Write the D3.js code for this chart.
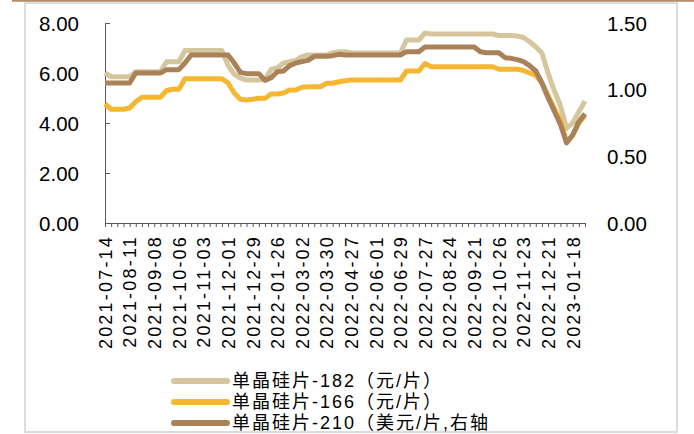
<!DOCTYPE html>
<html>
<head>
<meta charset="utf-8">
<script src="https://cdn.jsdelivr.net/npm/d3@7"></script>
<style>
  html, body { margin: 0; padding: 0; background: #fff; }
  svg { display: block; }
</style>
</head>
<body>
<svg id="chart" width="694" height="434"></svg>
<script>
// ---------------- data ----------------
const dates = [
  "2021-07-14","2021-07-21","2021-07-28","2021-08-04","2021-08-11","2021-08-18","2021-08-25","2021-09-01",
  "2021-09-08","2021-09-15","2021-09-22","2021-09-29","2021-10-06","2021-10-13","2021-10-20","2021-10-27",
  "2021-11-03","2021-11-10","2021-11-17","2021-11-24","2021-12-01","2021-12-08","2021-12-15","2021-12-22",
  "2021-12-29","2022-01-05","2022-01-12","2022-01-19","2022-01-26","2022-02-09","2022-02-16","2022-02-23",
  "2022-03-02","2022-03-09","2022-03-16","2022-03-23","2022-03-30","2022-04-06","2022-04-13","2022-04-20",
  "2022-04-27","2022-05-11","2022-05-18","2022-05-25","2022-06-01","2022-06-08","2022-06-15","2022-06-22",
  "2022-06-29","2022-07-06","2022-07-13","2022-07-20","2022-07-27","2022-08-03","2022-08-10","2022-08-17",
  "2022-08-24","2022-08-31","2022-09-07","2022-09-14","2022-09-21","2022-09-28","2022-10-12","2022-10-19",
  "2022-10-26","2022-11-02","2022-11-09","2022-11-16","2022-11-23","2022-11-30","2022-12-07","2022-12-14",
  "2022-12-21","2022-12-28","2023-01-04","2023-01-11","2023-01-18","2023-02-01","2023-02-08"
];

// 单晶硅片-182（元/片） left axis
const wafer182 = [
  6.00,5.85,5.85,5.85,5.85,6.05,6.05,6.05,6.05,6.05,
  6.45,6.45,6.45,6.90,6.90,6.90,6.90,6.90,6.90,6.90,
  6.30,5.95,5.80,5.72,5.72,5.72,5.75,6.15,6.20,6.40,
  6.45,6.50,6.65,6.72,6.72,6.72,6.72,6.80,6.85,6.85,
  6.80,6.80,6.80,6.80,6.80,6.80,6.80,6.80,6.80,7.32,
  7.32,7.32,7.60,7.56,7.56,7.56,7.56,7.56,7.56,7.56,
  7.56,7.56,7.56,7.56,7.50,7.50,7.50,7.48,7.42,7.25,
  7.05,6.80,6.00,5.30,4.70,3.78,4.00,4.45,4.88
];

// 单晶硅片-166（元/片） left axis
const wafer166 = [
  4.76,4.55,4.55,4.55,4.60,4.85,5.03,5.03,5.03,5.03,
  5.30,5.35,5.35,5.77,5.77,5.77,5.77,5.77,5.77,5.77,
  5.60,5.20,4.95,4.92,4.95,4.99,4.99,5.16,5.16,5.20,
  5.32,5.32,5.43,5.45,5.45,5.45,5.59,5.59,5.65,5.69,
  5.72,5.72,5.72,5.72,5.72,5.72,5.72,5.72,5.72,6.08,
  6.08,6.08,6.38,6.25,6.25,6.25,6.25,6.25,6.25,6.25,
  6.25,6.25,6.25,6.25,6.15,6.15,6.15,6.15,6.10,6.00,
  5.90,5.60,5.10,4.60,4.10,3.25,3.50,4.00,4.30
];

// 单晶硅片-210（美元/片,右轴） right axis
const wafer210 = [
  1.050,1.050,1.050,1.050,1.050,1.125,1.125,1.125,1.125,1.125,
  1.150,1.150,1.150,1.200,1.260,1.260,1.260,1.260,1.260,1.260,
  1.260,1.200,1.130,1.120,1.120,1.120,1.070,1.090,1.135,1.140,
  1.180,1.200,1.210,1.220,1.250,1.250,1.250,1.255,1.265,1.260,
  1.260,1.260,1.260,1.260,1.260,1.260,1.260,1.260,1.260,1.285,
  1.285,1.285,1.320,1.320,1.320,1.320,1.320,1.320,1.320,1.320,
  1.320,1.285,1.277,1.277,1.277,1.240,1.235,1.225,1.210,1.180,
  1.140,1.050,0.940,0.840,0.740,0.600,0.660,0.760,0.820
];

const leftTicks = [0, 2, 4, 6, 8];
const rightTicks = [0, 0.5, 1.0, 1.5];
const seriesNames = ["单晶硅片-182（元/片）", "单晶硅片-166（元/片）", "单晶硅片-210（美元/片,右轴"];
const seriesColors = ["#D6C69E", "#F5B731", "#A9825A"];

// ---------------- drawing ----------------
const svg = d3.select("#chart");
const W = 694, H = 434;
const plot = { left: 105, right: 585, top: 23, bottom: 223 };

// frame
svg.append("line").attr("x1", 12).attr("x2", W).attr("y1", 0.8).attr("y2", 0.8)
  .attr("stroke", "#B58A66").attr("stroke-width", 2);
svg.append("rect").attr("x", 25).attr("y", 3).attr("width", 652).attr("height", 429)
  .attr("fill", "none").attr("stroke", "#DCDCDC").attr("stroke-width", 2);

const x = d3.scalePoint().domain(dates).range([plot.left, plot.right]);
const yL = d3.scaleLinear().domain([0, 8]).range([plot.bottom, plot.top]);
const yR = d3.scaleLinear().domain([0, 1.5]).range([plot.bottom, plot.top]);

const axisColor = "#595959";
const numFont = "'Liberation Sans', Arial, sans-serif";

// left axis
const gL = svg.append("g").attr("transform", `translate(${plot.left},0)`)
  .call(d3.axisRight(yL).tickValues(leftTicks).tickSize(5).tickFormat(d3.format(".2f")));
gL.select(".domain").attr("stroke", axisColor);
gL.selectAll(".tick line").attr("stroke", axisColor);
gL.selectAll(".tick text")
  .attr("x", -26).attr("text-anchor", "end").attr("dy", "0.35em")
  .attr("fill", "#000").style("font-family", numFont).style("font-size", "20.5px");

// right axis (labels only)
const gR = svg.append("g").attr("transform", `translate(${plot.right},0)`)
  .call(d3.axisRight(yR).tickValues(rightTicks).tickSize(0).tickFormat(d3.format(".2f")));
gR.select(".domain").remove();
gR.selectAll(".tick text")
  .attr("x", 22).attr("text-anchor", "start").attr("dy", "0.35em")
  .attr("fill", "#000").style("font-family", numFont).style("font-size", "20.5px");

// x axis
const gX = svg.append("g").attr("transform", `translate(0,${plot.bottom})`)
  .call(d3.axisBottom(x).tickSize(4).tickSizeOuter(0)
    .tickFormat((d, i) => (i % 4 === 0 ? d : "")));
gX.select(".domain").attr("stroke", axisColor);
gX.selectAll(".tick line").attr("stroke", axisColor);
gX.selectAll(".tick text")
  .attr("transform", "rotate(-90)")
  .attr("x", -12).attr("y", 0).attr("dy", "0.35em")
  .attr("text-anchor", "end")
  .attr("fill", "#000")
  .style("font-family", numFont).style("font-size", "18px")
  .style("letter-spacing", "2.2px");

// lines
const lineL = d3.line().x((d, i) => x(dates[i])).y(d => yL(d)).curve(d3.curveLinear);
const lineR = d3.line().x((d, i) => x(dates[i])).y(d => yR(d)).curve(d3.curveLinear);

const series = [
  { vals: wafer182, line: lineL, color: seriesColors[0] },
  { vals: wafer166, line: lineL, color: seriesColors[1] },
  { vals: wafer210, line: lineR, color: seriesColors[2] }
];
series.forEach(s => {
  svg.append("path").datum(s.vals)
    .attr("d", s.line)
    .attr("fill", "none")
    .attr("stroke", s.color)
    .attr("stroke-width", 5)
    .attr("stroke-linejoin", "round")
    .attr("stroke-linecap", "butt");
});

// legend
const legend = svg.append("g");
const legRows = [381, 402, 423];
seriesNames.forEach((name, i) => {
  legend.append("line")
    .attr("x1", 174).attr("x2", 227).attr("y1", legRows[i]).attr("y2", legRows[i])
    .attr("stroke", seriesColors[i]).attr("stroke-width", 6).attr("stroke-linecap", "round");
  legend.append("text")
    .attr("x", 232).attr("y", legRows[i]).attr("dy", "0.36em")
    .style("font-family", "'Liberation Sans', 'Noto Sans CJK SC', sans-serif")
    .style("font-size", "18px")
    .style("letter-spacing", "2px")
    .attr("fill", "#000")
    .text(name);
});
</script>
</body>
</html>
